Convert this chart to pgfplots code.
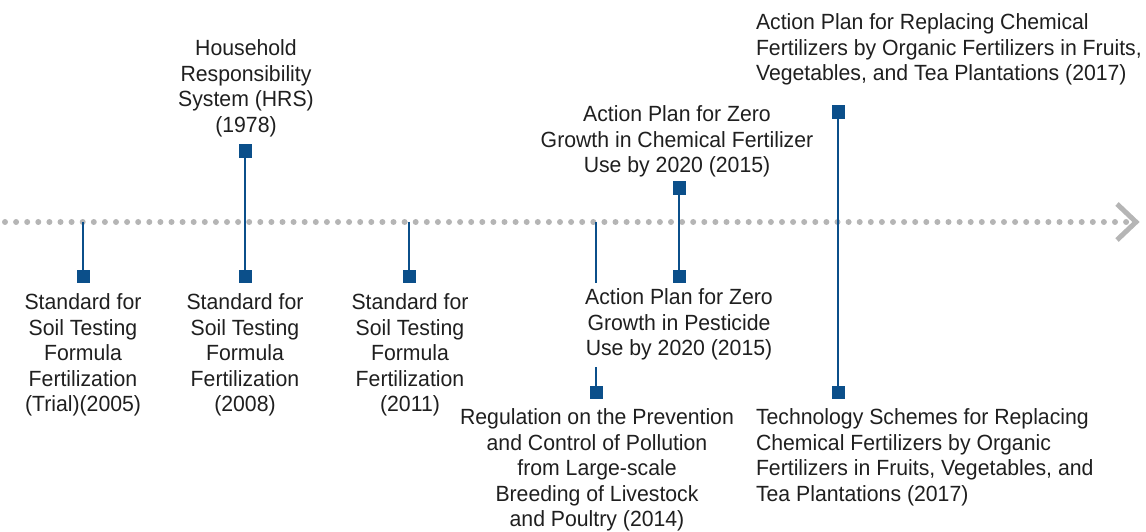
\documentclass[border=0pt]{standalone}
\usepackage{pgfplots}
\pgfplotsset{compat=1.18}
\usepackage{fontspec}
\setmainfont{Liberation Sans}[FakeStretch=0.965]
\definecolor{mblue}{HTML}{0B4F8A}
\definecolor{tgray}{HTML}{B5B5B5}
\tikzset{lbl/.style={font=\fontsize{11}{12.75}\selectfont, inner sep=0pt, outer sep=0pt, text=black!88}}
\begin{document}
\begin{tikzpicture}
\begin{axis}[scale only axis, width=573pt, height=265.5pt,
  xmin=0, xmax=1146, ymin=-531, ymax=0, hide axis, clip=false]
% timeline
\addplot[tgray, line width=3pt, line cap=round, dash pattern=on 0pt off 5.55pt] coordinates {(5,-222) (1128,-222)};
\addplot[tgray, line width=2.5pt] coordinates {(1117,-204) (1136,-222) (1117,-240)};
% stems
\addplot[mblue, line width=1pt] coordinates {(83,-222) (83,-276)};
\addplot[mblue, line width=1pt] coordinates {(245,-151) (245,-276)};
\addplot[mblue, line width=1pt] coordinates {(409,-222) (409,-276)};
\addplot[mblue, line width=1pt] coordinates {(596,-222) (596,-392)};
\addplot[mblue, line width=1pt] coordinates {(679,-188) (679,-276)};
\addplot[mblue, line width=1pt] coordinates {(838,-112) (838,-392)};
% markers
\addplot[only marks, mark=square*, mark size=3.2pt, mblue, mark options={line width=0.1pt}]
  coordinates {(83,-276) (245,-151) (245,-276) (409,-276) (596,-392) (679,-188) (679,-276) (838,-112) (838,-392)};
% labels
\node[lbl, anchor=north, align=center] at (axis cs:83,-294) {Standard for\\Soil Testing\\Formula\\Fertilization\\(Trial)(2005)};
\node[lbl, anchor=north, align=center] at (axis cs:245,-294) {Standard for\\Soil Testing\\Formula\\Fertilization\\(2008)};
\node[lbl, anchor=north, align=center] at (axis cs:410,-294) {Standard for\\Soil Testing\\Formula\\Fertilization\\(2011)};
\node[lbl, anchor=north, align=center] at (axis cs:246,-40) {Household\\Responsibility\\System (HRS)\\(1978)};
\node[lbl, anchor=north, align=center] at (axis cs:597,-409) {Regulation on the Prevention\\and Control of Pollution\\from Large-scale\\Breeding of Livestock\\and Poultry (2014)};
\node[lbl, anchor=north, align=center, fill=white, inner sep=3pt] at (axis cs:679,-283) {Action Plan for Zero\\Growth in Pesticide\\Use by 2020 (2015)};
\node[lbl, anchor=north, align=center] at (axis cs:677,-106) {Action Plan for Zero\\Growth in Chemical Fertilizer\\Use by 2020 (2015)};
\node[lbl, anchor=north west, align=left] at (axis cs:756,-14) {Action Plan for Replacing Chemical\\Fertilizers by Organic Fertilizers in Fruits,\\Vegetables, and Tea Plantations (2017)};
\node[lbl, anchor=north west, align=left] at (axis cs:756,-409) {Technology Schemes for Replacing\\Chemical Fertilizers by Organic\\Fertilizers in Fruits, Vegetables, and\\Tea Plantations (2017)};
\end{axis}
\pgfresetboundingbox
\path (current axis.south west) rectangle (current axis.north east);
\end{tikzpicture}
\end{document}
